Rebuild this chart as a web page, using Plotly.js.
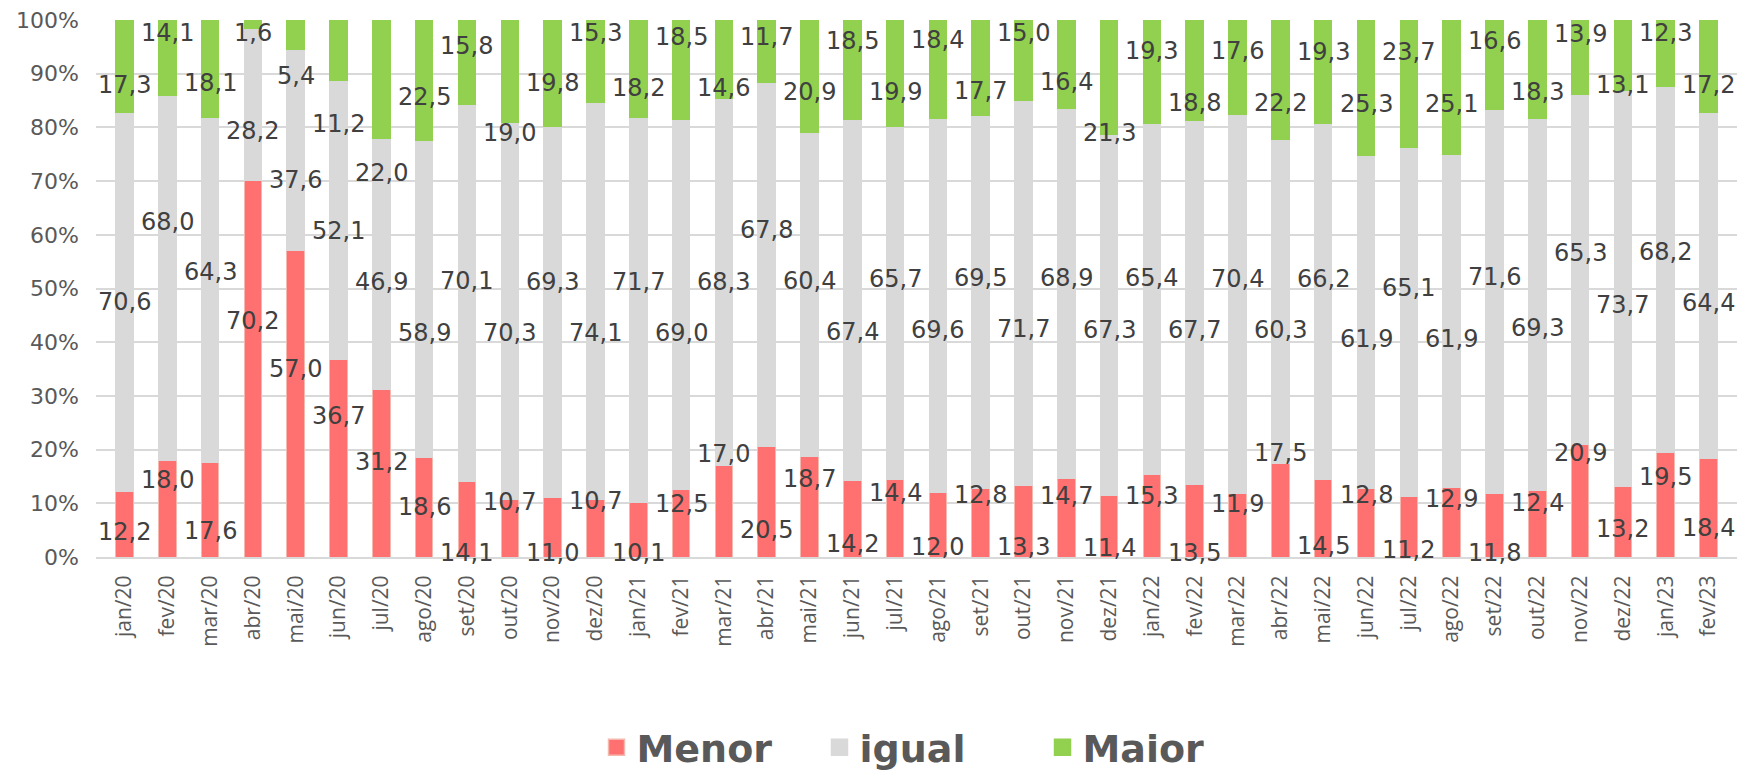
<!DOCTYPE html>
<html>
<head>
<meta charset="utf-8">
<script src="https://cdn.plot.ly/plotly-3.0.1.min.js"></script>
<style>html,body{margin:0;padding:0;background:#fff;}#chart{width:1751px;height:778px;}</style>
</head>
<body>
<div id="chart"></div>
<script>
// ---- data ----
const categories = ['jan/20','fev/20','mar/20','abr/20','mai/20','jun/20','jul/20','ago/20','set/20','out/20','nov/20','dez/20',
  'jan/21','fev/21','mar/21','abr/21','mai/21','jun/21','jul/21','ago/21','set/21','out/21','nov/21','dez/21',
  'jan/22','fev/22','mar/22','abr/22','mai/22','jun/22','jul/22','ago/22','set/22','out/22','nov/22','dez/22',
  'jan/23','fev/23'];
const menor = [12.2,18.0,17.6,70.2,57.0,36.7,31.2,18.6,14.1,10.7,11.0,10.7,
  10.1,12.5,17.0,20.5,18.7,14.2,14.4,12.0,12.8,13.3,14.7,11.4,
  15.3,13.5,11.9,17.5,14.5,12.8,11.2,12.9,11.8,12.4,20.9,13.2,
  19.5,18.4];
const igual = [70.6,68.0,64.3,28.2,37.6,52.1,46.9,58.9,70.1,70.3,69.3,74.1,
  71.7,69.0,68.3,67.8,60.4,67.4,65.7,69.6,69.5,71.7,68.9,67.3,
  65.4,67.7,70.4,60.3,66.2,61.9,65.1,61.9,71.6,69.3,65.3,73.7,
  68.2,64.4];
const maior = [17.3,14.1,18.1,1.6,5.4,11.2,22.0,22.5,15.8,19.0,19.8,15.3,
  18.2,18.5,14.6,11.7,20.9,18.5,19.9,18.4,17.7,15.0,16.4,21.3,
  19.3,18.8,17.6,22.2,19.3,25.3,23.7,25.1,16.6,18.3,13.9,13.1,
  12.3,17.2];
const seriesNames = ['Menor','igual','Maior'];
const yTicks = [0,10,20,30,40,50,60,70,80,90,100];

// ---- style ----
const colors = ['#FF7171','#D9D9D9','#92D050'];
const lineColors = ['#F6B7AE','#D9D9D9','#92D050'];
const W = 1751, H = 778;
const margin = {l:96, r:14, t:20, b:221, autoexpand:false};
const plotH = H - margin.t - margin.b;

const seriesVals = [menor, igual, maior];

const traces = seriesVals.map((vals, k) => ({
  type:'bar', x:categories, y:vals, name:seriesNames[k],
  marker:{color:colors[k], line:{color:lineColors[k], width:1}},
  showlegend:false, hoverinfo:'x+y+name'
}));
// legend proxies (bigger square symbols)
seriesNames.forEach((n,k) => traces.push({
  type:'scatter', mode:'markers', x:[null], y:[null], name:n,
  marker:{symbol:'square', size:24, color:colors[k], line:{color:lineColors[k], width:1.5}},
  showlegend:true, hoverinfo:'skip'
}));

// ---- data labels: centred on each segment, nudged apart where they would overlap ----
const labels = [];
categories.forEach((c,i) => {
  const tot = menor[i] + igual[i] + maior[i];
  let base = 0;
  seriesVals.forEach((vals,k) => {
    const h = vals[i] / tot * 100;
    const mid = base + h/2;
    labels.push({col:i, s:k, mid:mid, y:mid, text:vals[i].toFixed(1).replace('.', ',')});
    base += h;
  });
});
const pxPerUnit = plotH / 100;
const sepU = 52 / pxPerUnit;
for (let it = 0; it < 400; it++) {
  for (let a = 0; a < labels.length; a++) {
    for (let b = a+1; b < labels.length; b++) {
      const A = labels[a], B = labels[b];
      if (Math.abs(A.col - B.col) > 1) continue;
      const dy = B.y - A.y;
      if (Math.abs(dy) < sepU) {
        const push = (sepU - Math.abs(dy)) / 2;
        const dir = dy > 0 ? 1 : (dy < 0 ? -1 : (A.col % 2 === 0 ? 1 : -1));
        A.y -= dir * push * 0.5;
        B.y += dir * push * 0.5;
      }
    }
  }
  labels.forEach(L => {
    L.y += 0.01 * (L.mid - L.y);
    L.y = Math.max(0.8, Math.min(97.5, L.y));
  });
}
const annotations = labels.map(L => ({
  xref:'x', yref:'y', x:categories[L.col], y:L.y, text:L.text, showarrow:false,
  font:{family:'DejaVu Sans, sans-serif', size:24, color:'#404040'},
  xanchor:'center', yanchor:'middle'
}));

const layout = {
  width:W, height:H, margin:margin,
  paper_bgcolor:'#ffffff', plot_bgcolor:'#ffffff',
  barmode:'stack', barnorm:'percent', bargap:0.59,
  font:{family:'DejaVu Sans, sans-serif', color:'#595959'},
  xaxis:{type:'category', showgrid:false, showline:true, linecolor:'#D9D9D9', linewidth:2,
    ticks:'', tickangle:-90, ticklabelstandoff:8, automargin:false,
    tickfont:{family:'Open Sans, sans-serif', size:21, color:'#595959'}},
  yaxis:{range:[0,100], tickvals:yTicks, ticktext:yTicks.map(v => v + '%'),
    showgrid:true, gridcolor:'#D9D9D9', gridwidth:2, zeroline:false, showline:false,
    ticks:'', ticklabelstandoff:16, automargin:false,
    tickfont:{family:'DejaVu Sans, sans-serif', size:22, color:'#595959'}},
  showlegend:true,
  legend:{orientation:'h', x:0.305, xanchor:'left', y:-0.355, yanchor:'middle',
    font:{family:'DejaVu Sans, sans-serif', size:38, color:'#595959', weight:'bold'},
    itemwidth:30, entrywidth:178, entrywidthmode:'pixels', bgcolor:'rgba(0,0,0,0)', traceorder:'normal'},
  annotations:annotations
};

Plotly.newPlot('chart', traces, layout, {displayModeBar:false, staticPlot:true});
</script>
</body>
</html>
